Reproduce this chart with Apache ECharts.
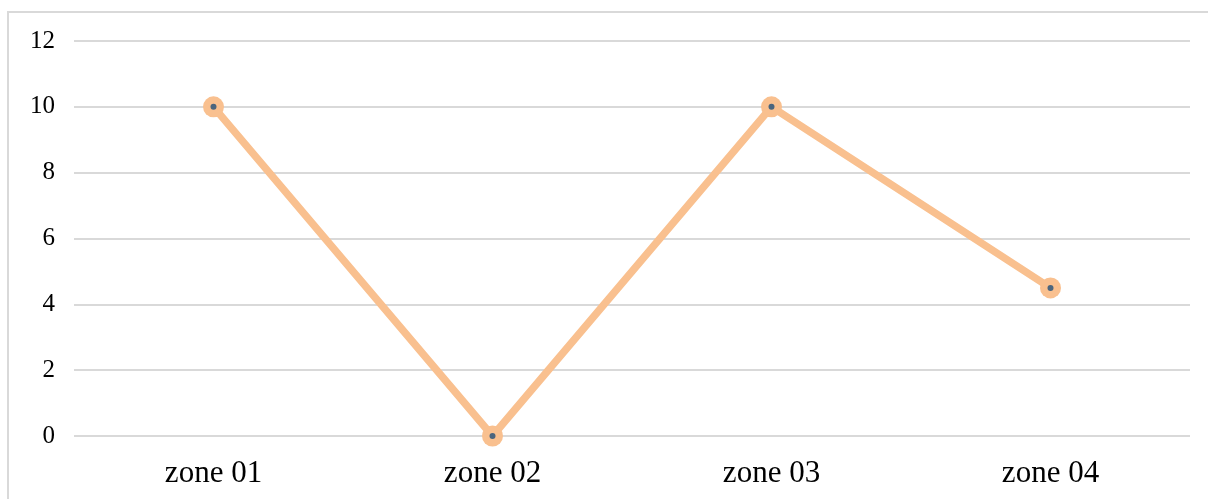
<!DOCTYPE html>
<html>
<head>
<meta charset="utf-8">
<script src="https://cdn.jsdelivr.net/npm/echarts@6/dist/echarts.min.js"></script>
<style>
  html, body { margin: 0; padding: 0; background: #ffffff; }
  #chart { width: 1208px; height: 499px; }
</style>
</head>
<body>
<div id="chart"></div>
<script>
// Zones along the horizontal axis and their measured values
const zones = ['zone 01', 'zone 02', 'zone 03', 'zone 04'];
const zoneValues = [10, 0, 10, 4.5];
// Value axis range
const yMin = 0;
const yMax = 12;
const yStep = 2;

const chart = echarts.init(document.getElementById('chart'), null, { renderer: 'canvas' });

const serif = '"Liberation Serif", "Times New Roman", serif';
const gridGray = '#d9d9d9';

chart.setOption({
  backgroundColor: '#ffffff',
  animation: false,
  graphic: [{
    type: 'rect',
    silent: true,
    shape: { x: 8, y: 12, width: 1240, height: 600 },
    style: { fill: 'none', stroke: gridGray, lineWidth: 2 }
  }],
  grid: { left: 74, right: 18, top: 41, bottom: 63, containLabel: false },
  xAxis: {
    type: 'category',
    data: zones,
    boundaryGap: true,
    axisLine: { show: false },
    axisTick: { show: false },
    axisLabel: { color: '#000000', fontFamily: serif, fontSize: 31, margin: 22 }
  },
  yAxis: {
    type: 'value',
    min: yMin,
    max: yMax,
    interval: yStep,
    axisLine: { show: false },
    axisTick: { show: false },
    axisLabel: { color: '#000000', fontFamily: serif, fontSize: 25, margin: 19 },
    splitLine: { show: true, lineStyle: { color: gridGray, width: 2 } }
  },
  series: [
    {
      type: 'line',
      data: zoneValues,
      symbol: 'circle',
      symbolSize: 21,
      lineStyle: { color: '#f9c08f', width: 7.5 },
      itemStyle: { color: '#f9c08f', borderWidth: 0 },
      z: 2
    },
    {
      type: 'scatter',
      data: zoneValues,
      symbol: 'circle',
      symbolSize: 6,
      itemStyle: { color: '#1f4e79' },
      z: 3
    }
  ]
});
</script>
</body>
</html>
